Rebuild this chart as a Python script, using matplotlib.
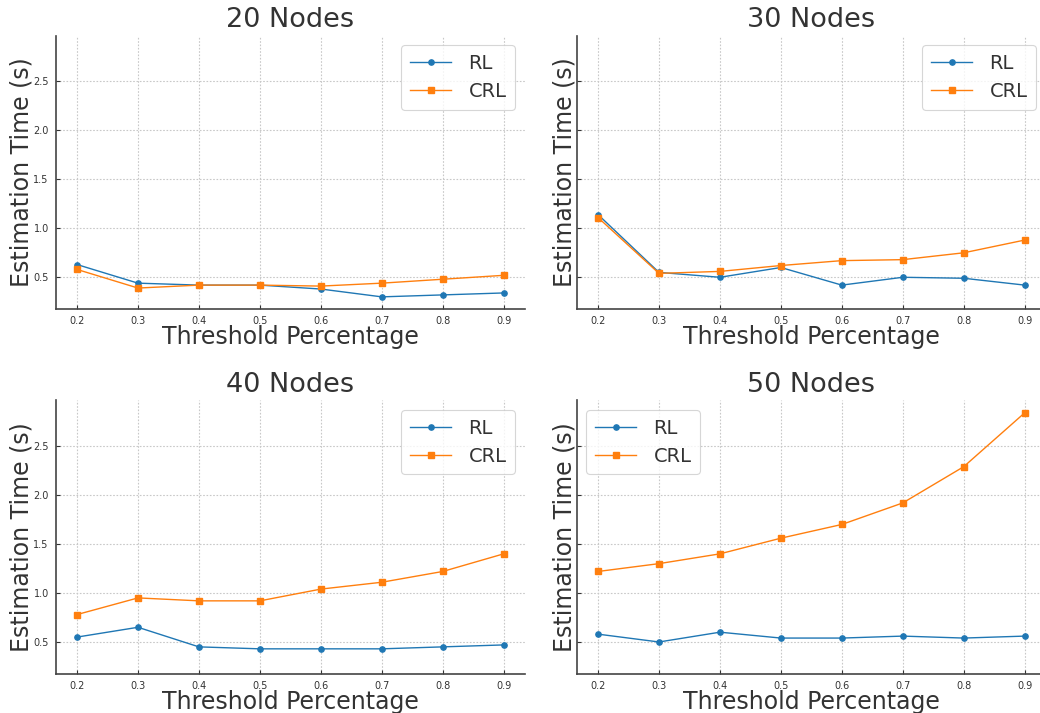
import matplotlib
matplotlib.use("Agg")
import matplotlib.pyplot as plt

thresholds = [0.2, 0.3, 0.4, 0.5, 0.6, 0.7, 0.8, 0.9]
titles = ["20 Nodes", "30 Nodes", "40 Nodes", "50 Nodes"]

rl_20 = [0.63, 0.44, 0.42, 0.42, 0.38, 0.30, 0.32, 0.34]
crl_20 = [0.58, 0.39, 0.42, 0.42, 0.41, 0.44, 0.48, 0.52]
rl_30 = [1.14, 0.55, 0.50, 0.60, 0.42, 0.50, 0.49, 0.42]
crl_30 = [1.11, 0.54, 0.56, 0.62, 0.67, 0.68, 0.75, 0.88]
rl_40 = [0.55, 0.65, 0.45, 0.43, 0.43, 0.43, 0.45, 0.47]
crl_40 = [0.78, 0.95, 0.92, 0.92, 1.04, 1.11, 1.22, 1.40]
rl_50 = [0.58, 0.50, 0.60, 0.54, 0.54, 0.56, 0.54, 0.56]
crl_50 = [1.22, 1.30, 1.40, 1.56, 1.70, 1.92, 2.29, 2.84]

rl_all = [rl_20, rl_30, rl_40, rl_50]
crl_all = [crl_20, crl_30, crl_40, crl_50]
legend_locs = ["upper right", "upper right", "upper right", "upper left"]

TXT = "#333333"
plt.rcParams.update({
    "font.family": "DejaVu Sans",
    "text.color": TXT,
    "axes.labelcolor": TXT,
    "xtick.color": TXT,
    "ytick.color": TXT,
    "axes.edgecolor": TXT,
})

W, H = 1040, 713
fig, axes = plt.subplots(2, 2, sharey=True, figsize=(W / 100, H / 100), dpi=100)
axes = axes.ravel()

aw, ah = 469.3, 273.6
lefts = [55.7, 576.7]
tops = [35.7, 400.4]

for i, ax in enumerate(axes):
    r, c = divmod(i, 2)
    x0 = lefts[c] / W
    y0 = 1 - (tops[r] + ah) / H
    ax.set_position([x0, y0, aw / W, ah / H])
    ax.plot(thresholds, rl_all[i], marker="o", markersize=3.8, linewidth=1.0,
            color="#1f77b4", label="RL")
    ax.plot(thresholds, crl_all[i], marker="s", markersize=5, linewidth=1.0,
            color="#ff7f0e", label="CRL")
    ax.set_title(titles[i], fontsize=19.5, color=TXT, pad=6)
    ax.set_xlabel("Threshold Percentage", fontsize=17, labelpad=-1)
    ax.set_ylabel("Estimation Time (s)", fontsize=17, labelpad=0)
    ax.set_xticks(thresholds)
    ax.set_xticklabels([f"{t:.1f}" for t in thresholds])
    ax.set_yticks([0.5, 1.0, 1.5, 2.0, 2.5])
    ax.tick_params(direction="in", length=3, width=0.8, labelsize=7, pad=5)
    ax.grid(True, linestyle=(0, (1.5, 1.5)), color="#c8c8c8", linewidth=0.8)
    ax.set_axisbelow(True)
    for s in ["top", "right"]:
        ax.spines[s].set_visible(False)
    for s in ["left", "bottom"]:
        ax.spines[s].set_linewidth(1.2)
        ax.spines[s].set_color("#444444")
    leg = ax.legend(loc=legend_locs[i], fontsize=14, frameon=True,
                    borderpad=0.45, handlelength=2.1, handletextpad=0.9,
                    labelspacing=0.45, borderaxespad=0.5)
    leg.get_frame().set_edgecolor("#cccccc")
    leg.get_frame().set_linewidth(0.8)
    for t in leg.get_texts():
        t.set_color(TXT)
    if c == 1:
        ax.tick_params(labelleft=False)

fig.savefig("out.png", dpi=100)
